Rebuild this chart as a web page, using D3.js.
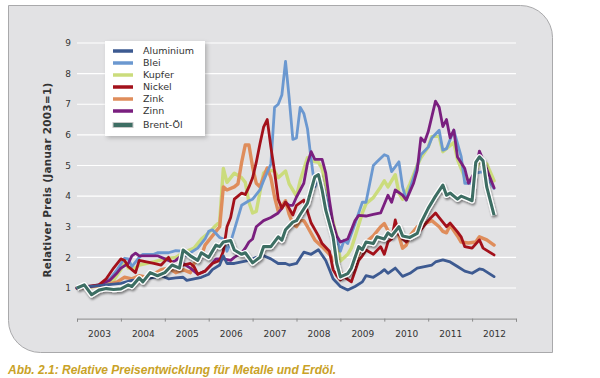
<!DOCTYPE html>
<html><head><meta charset="utf-8">
<script src="https://cdn.jsdelivr.net/npm/d3@7"></script>
<style>html,body{margin:0;padding:0;background:#fff;}svg{display:block;}</style>
</head><body>
<svg id="c" width="600" height="378"></svg>
<script>
// month index from January 2003 (0) ; value relative to January 2003
const years = ["2003","2004","2005","2006","2007","2008","2009","2010","2011","2012"];
const yTicks = [1,2,3,4,5,6,7,8,9];
const seriesNames = ["Aluminium","Blei","Kupfer","Nickel","Zink","Zinn","Brent-Öl"];
const seriesColors = ["#3d5a91","#6b98d0","#cbdc7c","#a3111b","#df8d5b","#7a1f7f","#3e6e64"];

const aluminium = [[0,1.0],[4,1.05],[8,1.1],[12,1.15],[15,1.25],[18,1.28],[21,1.35],[23,1.4],[25,1.3],[27,1.33],[29,1.35],[30,1.25],[32,1.3],[34,1.35],[36,1.45],[37,1.6],[39,1.75],[40,2.05],[41,1.8],[43,1.8],[45,1.85],[47,1.9],[49,2.0],[51,2.05],[53,1.95],[55,1.8],[57,1.8],[58,1.75],[60,1.8],[62,2.17],[64,2.1],[66,2.25],[68,1.9],[69,1.6],[70,1.3],[72,1.05],[74,0.93],[76,1.05],[78,1.2],[79,1.4],[81,1.35],[83,1.5],[84,1.6],[85,1.48],[87,1.65],[89,1.38],[91,1.48],[93,1.65],[95,1.7],[97,1.75],[98,1.85],[100,1.92],[102,1.85],[104,1.7],[106,1.55],[108,1.48],[110,1.62],[111,1.6],[114,1.37]];
const blei = [[0,1.0],[3,1.05],[6,1.1],[9,1.3],[11,1.6],[13,1.97],[14,1.95],[15,1.7],[17,2.0],[18,2.1],[21,2.1],[22,2.15],[25,2.15],[27,2.22],[29,2.2],[30,2.05],[31,2.15],[33,2.3],[35,2.6],[36,2.85],[37,2.9],[39,2.65],[40,2.6],[41,2.2],[42,2.5],[44,3.3],[45,3.7],[47,3.85],[48,3.9],[50,4.2],[51,4.5],[53,5.05],[54,6.9],[55,7.0],[56,7.3],[57,8.4],[58,7.2],[59,5.85],[60,5.9],[61,6.9],[62,6.7],[63,6.2],[64,5.2],[65,4.3],[66,4.6],[67,4.4],[68,4.0],[70,3.0],[72,2.2],[73,2.56],[74,2.45],[76,3.1],[78,3.8],[79,3.8],[81,5.0],[82,5.12],[84,5.35],[85,5.3],[86,4.8],[88,5.12],[89,4.3],[90,3.87],[92,4.6],[94,5.35],[96,5.6],[97,5.9],[99,6.15],[100,5.5],[101,5.55],[103,6.15],[105,5.3],[106,4.42],[108,4.42],[109,4.75],[111,4.8],[112,4.6],[114,4.25]];
const kupfer = [[0,1.0],[5,1.05],[8,1.1],[10,1.25],[12,1.6],[13,1.9],[14,1.65],[16,1.65],[17,1.75],[21,1.85],[24,1.95],[27,2.0],[29,2.15],[32,2.3],[34,2.6],[36,2.8],[38,3.05],[39,3.15],[40,4.9],[41,4.45],[43,4.75],[45,4.6],[46,4.45],[47,3.8],[48,3.45],[49,3.5],[51,4.75],[52,4.85],[54,4.82],[55,4.6],[57,4.82],[58,4.4],[60,4.0],[61,4.5],[63,5.25],[64,5.15],[66,5.1],[67,4.9],[68,4.4],[69,3.6],[71,2.7],[72,1.88],[74,2.1],[75,2.3],[76,2.67],[78,3.45],[79,3.75],[81,3.95],[83,4.3],[84,4.5],[85,4.3],[87,4.7],[88,4.1],[89,3.9],[91,4.4],[93,5.0],[94,5.25],[96,5.6],[97,5.95],[99,5.95],[100,5.45],[103,5.75],[104,5.2],[106,4.6],[108,4.5],[110,5.15],[112,5.05],[114,4.5]];
const nickel = [[0,1.0],[3,1.05],[6,1.1],[8,1.3],[10,1.65],[12,1.95],[13,1.9],[14,1.7],[15,1.6],[16,1.5],[17,1.9],[19,1.85],[21,1.8],[23,1.75],[25,2.0],[26,1.8],[27,1.65],[29,1.75],[31,1.8],[32,1.7],[33,1.45],[35,1.55],[37,1.8],[39,1.9],[40,2.2],[41,3.0],[42,3.3],[43,3.9],[44,4.0],[45,4.1],[46,4.05],[47,4.3],[48,4.6],[49,5.1],[50,5.7],[51,6.25],[52,6.5],[53,5.6],[54,4.8],[55,3.9],[56,3.6],[57,3.8],[58,3.6],[59,3.38],[60,3.7],[62,3.87],[63,3.5],[64,3.12],[66,2.7],[67,2.45],[69,2.2],[70,1.6],[71,1.4],[72,1.26],[73,1.36],[75,1.2],[77,1.9],[78,2.05],[79,2.24],[81,2.1],[83,2.35],[84,2.1],[85,2.5],[86,2.6],[87,3.22],[88,2.75],[89,2.6],[90,2.5],[92,2.75],[94,2.9],[96,3.2],[98,3.45],[99,3.3],[101,3.0],[102,3.12],[104,2.83],[105,2.67],[106,2.35],[108,2.3],[110,2.57],[111,2.3],[114,2.08]];
const zink = [[0,1.0],[4,1.05],[8,1.1],[11,1.2],[13,1.35],[15,1.3],[17,1.4],[19,1.35],[21,1.45],[23,1.6],[25,1.65],[27,1.5],[29,1.6],[31,1.5],[32,1.8],[34,2.05],[35,2.4],[37,2.7],[38,2.85],[39,3.0],[40,4.3],[41,4.2],[43,4.3],[44,4.4],[45,5.1],[46,5.67],[47,5.67],[48,4.95],[49,4.42],[50,4.3],[52,4.92],[53,4.6],[54,3.97],[55,3.5],[57,3.85],[58,3.4],[59,3.1],[60,3.0],[61,3.2],[62,3.2],[63,3.0],[65,2.57],[67,2.35],[69,2.1],[71,1.8],[72,1.5],[73,1.4],[75,1.6],[77,2.1],[78,2.35],[79,2.5],[81,2.7],[83,3.0],[84,3.1],[86,2.65],[87,3.0],[88,2.7],[89,2.3],[90,2.4],[91,2.7],[93,3.0],[95,3.1],[97,3.2],[99,3.0],[100,2.85],[101,2.8],[102,3.05],[104,2.7],[105,2.5],[107,2.47],[109,2.5],[110,2.67],[112,2.57],[114,2.4]];
const zinn = [[0,1.0],[3,1.02],[6,1.1],[9,1.25],[11,1.5],[12,1.65],[14,1.8],[15,2.05],[16,2.14],[17,2.05],[19,2.05],[22,2.05],[24,1.95],[26,1.85],[27,1.9],[28,2.0],[29,1.8],[31,1.65],[33,1.45],[35,1.55],[37,1.8],[38,1.95],[40,1.95],[42,1.9],[43,2.0],[45,2.15],[46,2.3],[47,2.5],[48,2.6],[49,3.0],[51,3.2],[53,3.3],[55,3.45],[56,3.6],[57,3.8],[58,3.7],[59,3.7],[60,3.97],[62,4.42],[63,5.07],[64,5.45],[65,5.2],[66,5.2],[67,5.2],[68,4.75],[69,3.87],[70,3.1],[71,2.7],[72,2.5],[74,2.6],[76,3.2],[77,3.37],[79,3.35],[81,3.4],[83,3.45],[85,4.03],[86,3.8],[87,4.2],[89,4.03],[90,3.87],[92,4.42],[93,4.85],[94,5.9],[95,5.77],[96,6.1],[98,7.1],[99,6.9],[100,6.27],[101,6.5],[102,5.9],[103,6.16],[104,5.28],[106,4.9],[107,4.42],[109,4.85],[110,5.47],[111,5.18],[114,4.27]];
const brent = [[0,1.0],[2,1.1],[4,0.78],[6,0.93],[8,0.98],[10,0.95],[12,0.97],[14,1.1],[15,1.05],[17,1.33],[18,1.2],[20,1.5],[22,1.4],[24,1.5],[26,1.75],[28,1.65],[29,2.24],[31,2.05],[33,1.9],[34,2.15],[36,2.0],[38,2.4],[39,2.35],[40,2.5],[42,2.55],[43,2.24],[45,2.1],[46,2.15],[48,1.82],[50,2.0],[51,2.35],[53,2.35],[55,2.67],[56,2.56],[57,2.9],[59,3.15],[60,3.2],[61,3.4],[63,3.77],[64,4.2],[65,4.63],[66,4.7],[67,4.2],[68,3.54],[70,2.67],[71,1.8],[72,1.36],[74,1.47],[75,1.65],[77,2.35],[78,2.25],[79,2.5],[81,2.45],[82,2.67],[84,2.6],[85,2.8],[86,2.7],[88,3.0],[89,2.7],[91,2.65],[93,2.78],[94,3.12],[96,3.6],[98,4.0],[100,4.36],[101,4.03],[102,4.1],[104,3.9],[105,4.0],[107,3.9],[108,3.85],[109,5.1],[110,5.28],[111,5.15],[112,4.3],[114,3.38]];

const seriesData = [aluminium, blei, kupfer, nickel, zink, zinn, brent];
const drawOrder = [2, 4, 1, 5, 3, 0]; // Brent drawn last, separately

const svg = d3.select("#c");
const defs = svg.append("defs");
const f1 = defs.append("filter").attr("id","shLeg").attr("x","-20%").attr("y","-20%").attr("width","150%").attr("height","150%");
f1.append("feDropShadow").attr("dx",2).attr("dy",2).attr("stdDeviation",2).attr("flood-color","#000").attr("flood-opacity",0.22);
const f2 = defs.append("filter").attr("id","shLine").attr("x","-10%").attr("y","-10%").attr("width","120%").attr("height","130%");
f2.append("feDropShadow").attr("dx",1).attr("dy",2).attr("stdDeviation",1.3).attr("flood-color","#000").attr("flood-opacity",0.45);

// panel
const L=8.5, T=5.5, R=552.5, B=352.5, rad=32;
svg.append("path")
  .attr("d",`M${L},${T} H${R-rad} A${rad},${rad} 0 0 1 ${R},${T+rad} V${B} H${L+rad} A${rad},${rad} 0 0 1 ${L},${B-rad} Z`)
  .attr("fill","#e2e2e4").attr("stroke","#a9a9ab").attr("stroke-width",1);

const x = d3.scaleLinear().domain([0,120]).range([77,516]);
const y = d3.scaleLinear().domain([0,9]).range([318.6,43]);

// gridlines
svg.append("g").selectAll("line").data(yTicks).join("line")
  .attr("x1",x(0)).attr("x2",x(120)).attr("y1",d=>y(d)).attr("y2",d=>y(d))
  .attr("stroke","#fff").attr("stroke-width",1.2);

// y tick labels
svg.append("g").selectAll("text").data(yTicks).join("text")
  .attr("x",71).attr("y",d=>y(d)).attr("dy","0.35em").attr("text-anchor","end")
  .attr("font-family","DejaVu Sans").attr("font-size",9).attr("fill","#333").text(d=>d);

// x axis
const xAxis = svg.append("g").attr("transform",`translate(0,${y(0)})`)
  .call(d3.axisBottom(x).tickValues(d3.range(0,121,12)).tickSize(3).tickFormat(""));
xAxis.select(".domain").attr("stroke","#8a8a8a");
xAxis.selectAll(".tick line").attr("stroke","#8a8a8a");
const yearAxis = svg.append("g").attr("transform",`translate(0,${y(0)})`)
  .call(d3.axisBottom(x).tickValues(years.map((d,i)=>6+12*i)).tickSize(0).tickPadding(12).tickFormat((d,i)=>years[i]));
yearAxis.select(".domain").remove();
yearAxis.selectAll("text").attr("font-family","DejaVu Sans").attr("font-size",9).attr("fill","#333");

// y title
svg.append("text").attr("transform","translate(51,180) rotate(-90)").attr("text-anchor","middle")
  .attr("font-family","DejaVu Sans").attr("font-weight","bold").attr("font-size",10.4).attr("fill","#333")
  .attr("letter-spacing","0.3")
  .text("Relativer Preis (Januar 2003=1)");

const line = d3.line().x(d=>x(d[0])).y(d=>y(d[1]));

const lg = svg.append("g");
drawOrder.forEach(i=>{
  lg.append("path").datum(seriesData[i]).attr("d",line).attr("fill","none")
    .attr("stroke",seriesColors[i]).attr("stroke-width",i===2||i===4?3.4:2.8)
    .attr("stroke-linejoin","round").attr("stroke-linecap","round");
});
const bg = svg.append("g").attr("filter","url(#shLine)");
bg.append("path").datum(brent).attr("d",line).attr("fill","none").attr("stroke","#fff").attr("stroke-width",5.6).attr("stroke-linejoin","round");
bg.append("path").datum(brent).attr("d",line).attr("fill","none").attr("stroke",seriesColors[6]).attr("stroke-width",3.1).attr("stroke-linejoin","round");

// legend
const leg = svg.append("g");
leg.append("rect").attr("x",105).attr("y",41).attr("width",100).attr("height",95).attr("fill","#fff").attr("filter","url(#shLeg)");
const legY = [51,63,75,87,99,111,125];
seriesNames.forEach((n,i)=>{
  if(i<6){
    leg.append("line").attr("x1",113).attr("x2",133).attr("y1",legY[i]).attr("y2",legY[i])
      .attr("stroke",seriesColors[i]).attr("stroke-width",3.5);
  } else {
    leg.append("rect").attr("x",113).attr("y",legY[i]-2.5).attr("width",20).attr("height",5)
      .attr("fill",seriesColors[i]).attr("stroke","#c8c8c8").attr("stroke-width",1);
  }
  leg.append("text").attr("x",143).attr("y",legY[i]).attr("dy","0.35em")
    .attr("font-family","DejaVu Sans").attr("font-size",9.5).attr("fill","#333").text(n);
});

// caption
svg.append("text").attr("x",8).attr("y",374)
  .attr("font-family","Liberation Sans").attr("font-weight","bold").attr("font-style","italic")
  .attr("font-size",12).attr("fill","#c9a227")
  .text("Abb. 2.1: Relative Preisentwicklung für Metalle und Erdöl.");
</script>
</body></html>
